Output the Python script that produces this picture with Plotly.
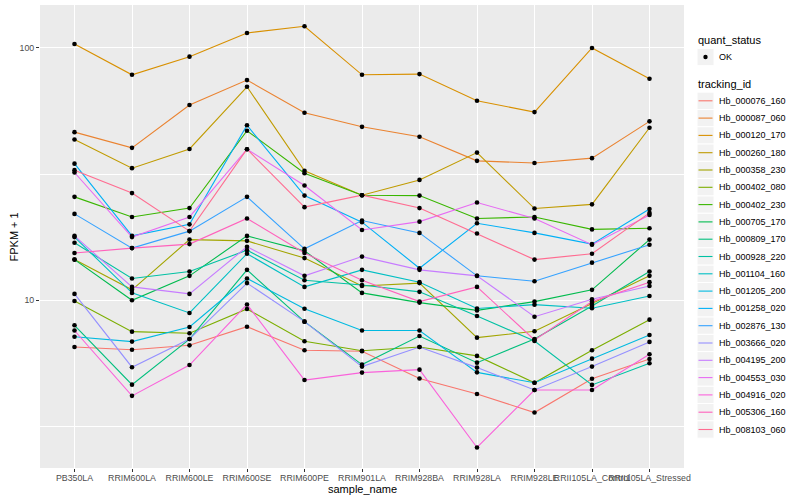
import plotly.graph_objects as go

samples = ["PB350LA", "RRIM600LA", "RRIM600LE", "RRIM600SE", "RRIM600PE", "RRIM901LA",
           "RRIM928BA", "RRIM928LA", "RRIM928LE", "RRII105LA_Control", "RRII105LA_Stressed"]

tracking_ids = ["Hb_000076_160", "Hb_000087_060", "Hb_000120_170", "Hb_000260_180", "Hb_000358_230",
                "Hb_000402_080", "Hb_000402_230", "Hb_000705_170", "Hb_000809_170", "Hb_000928_220",
                "Hb_001104_160", "Hb_001205_200", "Hb_001258_020", "Hb_002876_130", "Hb_003666_020",
                "Hb_004195_200", "Hb_004553_030", "Hb_004916_020", "Hb_005306_160", "Hb_008103_060"]

colors = ["#F8766D", "#EA8331", "#D89000", "#C09B00", "#A3A500", "#7CAE00", "#39B600", "#00BB4E",
          "#00BF7D", "#00C1A3", "#00BFC4", "#00BAE0", "#00B0F6", "#35A2FF", "#9590FF", "#C77CFF",
          "#E76BF3", "#FA62DB", "#FF62BC", "#FF6C91"]

# FPKM + 1 per tracking_id, in sample order
Hb_000076_160 = [6.53, 6.37, 6.63, 7.86, 6.34, 6.28, 4.90, 4.25, 3.59, 4.89, 5.85]
Hb_000087_060 = [46.4, 40.2, 59.4, 74.6, 55.4, 48.7, 44.5, 35.7, 35.0, 36.6, 51.2]
Hb_000120_170 = [103.7, 78.3, 92.4, 114.7, 121.9, 78.3, 78.8, 61.8, 55.7, 100.0, 75.5]
Hb_000260_180 = [43.4, 33.4, 39.8, 70.2, 32.6, 26.1, 30.0, 38.5, 23.1, 24.0, 48.3]
Hb_000358_230 = [14.5, 11.0, 17.4, 17.2, 14.7, 11.4, 11.7, 7.11, 7.54, 9.69, 12.5]
Hb_000402_080 = [9.94, 7.51, 7.40, 9.24, 6.88, 6.31, 6.53, 6.02, 4.71, 6.34, 8.38]
Hb_000402_230 = [25.7, 21.4, 23.2, 47.0, 31.9, 26.1, 26.0, 21.1, 21.4, 19.1, 19.3]
Hb_000705_170 = [14.5, 10.0, 12.5, 18.0, 15.7, 10.7, 9.79, 9.12, 9.88, 11.0, 17.4]
Hb_000809_170 = [7.96, 4.63, 7.02, 13.2, 8.23, 5.56, 7.22, 5.66, 7.02, 9.50, 13.0]
Hb_000928_220 = [16.9, 12.2, 13.0, 15.8, 12.0, 11.5, 10.8, 8.67, 6.90, 4.62, 5.63]
Hb_001104_160 = [17.8, 10.7, 8.91, 15.3, 11.3, 13.2, 11.8, 9.28, 9.61, 9.30, 10.4]
Hb_001205_200 = [7.17, 6.86, 7.84, 12.2, 9.26, 7.59, 7.59, 5.18, 4.71, 5.87, 7.29]
Hb_001258_020 = [34.8, 18.0, 20.0, 49.4, 26.0, 20.4, 13.4, 20.2, 18.5, 16.7, 23.0]
Hb_002876_130 = [22.0, 16.1, 18.8, 25.7, 16.0, 20.7, 18.5, 12.5, 11.9, 14.1, 16.6]
Hb_003666_020 = [10.6, 5.43, 7.02, 11.7, 8.23, 5.46, 6.53, 5.41, 4.41, 5.46, 6.84]
Hb_004195_200 = [18.0, 11.3, 10.6, 16.3, 12.5, 14.9, 13.2, 12.5, 8.61, 10.1, 11.4]
Hb_004553_030 = [32.1, 17.8, 21.4, 39.7, 28.5, 19.0, 20.5, 24.4, 21.1, 16.6, 21.8]
Hb_004916_020 = [7.59, 4.18, 5.54, 9.63, 4.83, 5.17, 5.31, 2.61, 4.41, 4.41, 6.11]
Hb_005306_160 = [15.4, 16.1, 16.7, 21.1, 15.4, 12.0, 9.88, 11.3, 6.96, 9.88, 11.8]
Hb_008103_060 = [32.8, 26.6, 18.8, 39.7, 23.4, 26.1, 23.2, 18.4, 14.5, 15.3, 22.2]

series = [Hb_000076_160, Hb_000087_060, Hb_000120_170, Hb_000260_180, Hb_000358_230,
          Hb_000402_080, Hb_000402_230, Hb_000705_170, Hb_000809_170, Hb_000928_220,
          Hb_001104_160, Hb_001205_200, Hb_001258_020, Hb_002876_130, Hb_003666_020,
          Hb_004195_200, Hb_004553_030, Hb_004916_020, Hb_005306_160, Hb_008103_060]

quant_status = ["OK"]

FONT = "Liberation Sans, Arial, Helvetica, sans-serif"

# geometry of the 800x500 canvas (pixels)
W, H = 800, 500
ML, MR, MT, MB = 40, 116, 5, 32
PW, PH = W - ML - MR, H - MT - MB


def pxx(x):
    return (x - ML) / PW


def pxy(y):
    return 1 - (y - MT) / PH


fig = go.Figure()

for name, vals, col in zip(tracking_ids, series, colors):
    fig.add_trace(go.Scatter(
        x=samples, y=vals, mode="lines", name=name,
        line=dict(color=col, width=1.1), showlegend=False,
        hovertemplate=name + "<br>%{x}: %{y}<extra></extra>"))

# all points (quant_status = OK)
px, py = [], []
for vals in series:
    px.extend(samples)
    py.extend(vals)
fig.add_trace(go.Scatter(
    x=px, y=py, mode="markers", name=quant_status[0], showlegend=False,
    marker=dict(color="black", size=4.6, symbol="circle", line=dict(width=0))))

# ---- legend drawn ggplot style ----
shapes = []
annotations = []
key_l, key_r = 697, 714
key_h = 17.3

annotations.append(dict(text="quant_status", x=pxx(696), y=pxy(40.5), xref="paper", yref="paper",
                        xanchor="left", yanchor="middle", showarrow=False,
                        font=dict(family=FONT, size=11, color="black")))
cy = 57
shapes.append(dict(type="rect", xref="paper", yref="paper", x0=pxx(key_l), x1=pxx(key_r),
                   y0=pxy(cy - key_h / 2), y1=pxy(cy + key_h / 2),
                   fillcolor="#F2F2F2", line=dict(color="white", width=1), layer="above"))
shapes.append(dict(type="circle", xref="paper", yref="paper", x0=pxx(703.3), x1=pxx(707.7),
                   y0=pxy(54.8), y1=pxy(59.2), fillcolor="black", line=dict(width=0), layer="above"))
annotations.append(dict(text=quant_status[0], x=pxx(716.5), y=pxy(cy), xref="paper", yref="paper",
                        xanchor="left", yanchor="middle", showarrow=False,
                        font=dict(family=FONT, size=9, color="black")))

annotations.append(dict(text="tracking_id", x=pxx(696), y=pxy(84.3), xref="paper", yref="paper",
                        xanchor="left", yanchor="middle", showarrow=False,
                        font=dict(family=FONT, size=11, color="black")))
for i, (name, col) in enumerate(zip(tracking_ids, colors)):
    cy = 100.8 + i * key_h
    shapes.append(dict(type="rect", xref="paper", yref="paper", x0=pxx(key_l), x1=pxx(key_r),
                       y0=pxy(cy - key_h / 2), y1=pxy(cy + key_h / 2),
                       fillcolor="#F2F2F2", line=dict(color="white", width=1), layer="above"))
    shapes.append(dict(type="line", xref="paper", yref="paper", x0=pxx(698.5), x1=pxx(712.5),
                       y0=pxy(cy), y1=pxy(cy), line=dict(color=col, width=1.1), layer="above"))
    annotations.append(dict(text=name, x=pxx(716.5), y=pxy(cy), xref="paper", yref="paper",
                            xanchor="left", yanchor="middle", showarrow=False,
                            font=dict(family=FONT, size=9, color="black")))

# axis titles
annotations.append(dict(text="sample_name", x=0.5, y=pxy(488.5), xref="paper", yref="paper",
                        xanchor="center", yanchor="middle", showarrow=False,
                        font=dict(family=FONT, size=11, color="black")))
annotations.append(dict(text="FPKM + 1", x=pxx(13), y=0.5, xref="paper", yref="paper",
                        xanchor="center", yanchor="middle", showarrow=False, textangle=-90,
                        font=dict(family=FONT, size=11, color="black")))

tickfont = dict(family=FONT, size=8.8, color="#4D4D4D")

fig.update_layout(
    width=W, height=H,
    margin=dict(l=ML, r=MR, t=MT, b=MB, autoexpand=False),
    paper_bgcolor="white", plot_bgcolor="#EBEBEB",
    font=dict(family=FONT, size=9, color="black"),
    showlegend=False,
    shapes=shapes, annotations=annotations,
    xaxis=dict(type="category", categoryorder="array", categoryarray=samples,
               range=[-0.6, len(samples) - 0.4], tickangle=0, automargin=False,
               showgrid=True, gridcolor="white", gridwidth=1.1,
               ticks="outside", ticklen=3, tickcolor="#333333", tickwidth=1,
               ticklabelstandoff=-2,
               tickfont=tickfont, zeroline=False, showline=False),
    yaxis=dict(type="log", range=[0.3353, 2.1704], automargin=False,
               tickvals=[10, 100], ticktext=["10", "100"],
               showgrid=True, gridcolor="white", gridwidth=1.1,
               minor=dict(tickvals=[3.1623, 31.623], showgrid=True, gridcolor="white",
                          gridwidth=0.55, ticks=""),
               ticks="outside", ticklen=3, tickcolor="#333333", tickwidth=1,
               tickfont=tickfont, zeroline=False, showline=False),
)

fig.write_html("out.html", config={"displayModeBar": False},
               post_script="document.body.style.margin='0px';document.body.style.padding='0px';")
